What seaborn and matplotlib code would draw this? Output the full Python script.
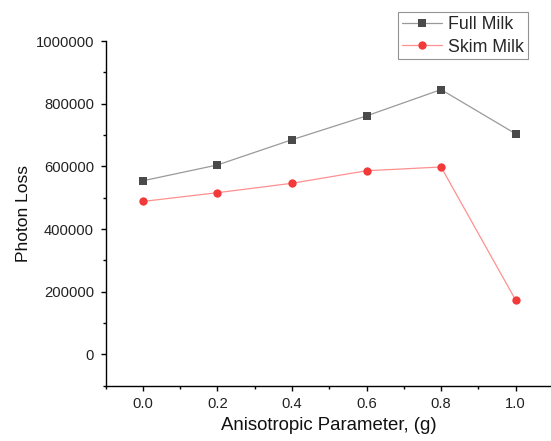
import matplotlib
matplotlib.use("Agg")
import matplotlib.pyplot as plt
from matplotlib.lines import Line2D
from matplotlib.ticker import MultipleLocator, FormatStrFormatter
import seaborn as sns
import pandas as pd

g_values = [0.0, 0.2, 0.4, 0.6, 0.8, 1.0]
full_milk = [554000, 604500, 685000, 761000, 845000, 704000]
skim_milk = [488000, 516000, 546000, 586000, 598000, 173500]
series_names = ["Full Milk", "Skim Milk"]

df = pd.DataFrame({
    "g": g_values * 2,
    "loss": full_milk + skim_milk,
    "sample": [series_names[0]] * len(g_values) + [series_names[1]] * len(g_values),
})

sns.set_style("ticks")
plt.rcParams["font.family"] = ["Liberation Sans", "DejaVu Sans"]

line_colors = {"Full Milk": "#9a9a9a", "Skim Milk": "#ff9090"}
marker_colors = {"Full Milk": "#4a4a4a", "Skim Milk": "#f23a3a"}

fig = plt.figure(figsize=(5.51, 4.41), dpi=100)
ax = fig.add_axes([0.1918, 0.1254, 0.8082, 0.7816])

sns.lineplot(data=df, x="g", y="loss", hue="sample", palette=line_colors,
             linewidth=0.9, legend=False, ax=ax, zorder=2)
full = df[df["sample"] == "Full Milk"]
skim = df[df["sample"] == "Skim Milk"]
sns.scatterplot(data=full, x="g", y="loss", color=marker_colors["Full Milk"],
                marker="s", s=30, linewidth=0, ax=ax, zorder=3)
sns.scatterplot(data=skim, x="g", y="loss", color=marker_colors["Skim Milk"],
                marker="o", s=36, linewidth=0, ax=ax, zorder=3)

ax.set_xlim(-0.1, 1.095)
ax.set_ylim(-100000, 1000000)
ax.xaxis.set_major_locator(MultipleLocator(0.2))
ax.xaxis.set_minor_locator(MultipleLocator(0.1))
ax.xaxis.set_major_formatter(FormatStrFormatter("%.1f"))
ax.yaxis.set_major_locator(MultipleLocator(200000))
ax.yaxis.set_minor_locator(MultipleLocator(100000))
ax.yaxis.set_major_formatter(FormatStrFormatter("%d"))

sns.despine(ax=ax)
for side in ["left", "bottom"]:
    ax.spines[side].set_linewidth(1.0)
    ax.spines[side].set_color("black")
ax.tick_params(which="major", direction="out", length=3.5, width=1.0,
               labelsize=10.6, colors="black", labelcolor="#222222")
ax.tick_params(axis="x", which="major", pad=4.6)
ax.tick_params(axis="y", which="major", pad=5)
ax.tick_params(which="minor", direction="out", length=2.2, width=1.0, colors="black")

ax.set_xlabel("Anisotropic Parameter, (g)", fontsize=13.4, labelpad=4.2, color="#111111")
ax.set_ylabel("Photon Loss", fontsize=12.5, labelpad=3.5, color="#111111")

handles = [
    Line2D([0], [0], color=line_colors["Full Milk"], lw=0.9, marker="s",
           markersize=5.5, markerfacecolor=marker_colors["Full Milk"],
           markeredgewidth=0, label="Full Milk"),
    Line2D([0], [0], color=line_colors["Skim Milk"], lw=0.9, marker="o",
           markersize=6, markerfacecolor=marker_colors["Skim Milk"],
           markeredgewidth=0, label="Skim Milk"),
]
leg = ax.legend(handles=handles, loc="upper left",
                bbox_to_anchor=(398.3 / 551, 1 - 12.3 / 441),
                bbox_transform=fig.transFigure, fontsize=12.8,
                frameon=True, fancybox=False, borderpad=0.22,
                handlelength=2.25, handletextpad=0.35, labelspacing=0.3,
                borderaxespad=0)
leg.get_frame().set_edgecolor("#777777")
leg.get_frame().set_linewidth(0.8)

fig.savefig("out.png", dpi=100)
